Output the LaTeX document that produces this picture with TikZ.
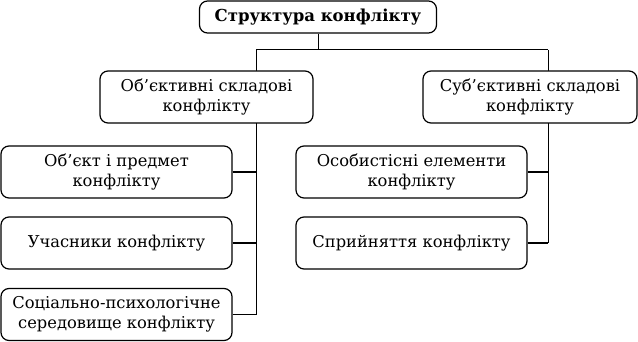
\documentclass[tikz,border=0pt]{standalone}
\usepackage{fontspec}
\setmainfont{DejaVu Serif}
\usepackage{tikz}
\usetikzlibrary{positioning, backgrounds}

\begin{document}
\begin{tikzpicture}[
    x=1pt, y=-1pt,
    every node/.style={font=\fontsize{16.3}{19.5}\selectfont},
    blok/.style={draw, line width=1.2pt, rounded corners=8pt, fill=white,
        align=center, inner sep=0pt, minimum height=52pt},
    titul/.style={blok, minimum height=32pt, minimum width=237pt,
        font=\fontsize{16.5}{20}\selectfont\bfseries},
    zviazok/.style={line width=1pt, black},
    gilka/.style={line width=1.5pt, black}
]
\useasboundingbox (0,0) rectangle (638,342);

\def\wL{231}     % ширина нижніх блоків
\def\xL{256}     % ліва вертикаль
\def\xR{548}     % права вертикаль
\def\yH{50}      % горизонталь під заголовком

% заголовок
\node[titul] (root) at (318,17) {Структура конфлікту};

% складові
\node[blok, minimum width=213pt] (obj) at (206.5,97) {Об’єктивні складові\\конфлікту};
\node[blok, minimum width=214pt] (subj) at (530,97) {Суб’єктивні складові\\конфлікту};

% ліва гілка
\node[blok, minimum width=\wL pt] (obj1) at (116.5,172) {Об’єкт і предмет\\конфлікту};
\node[blok, minimum width=\wL pt] (obj2) at (116.5,243) {Учасники конфлікту};
\node[blok, minimum width=\wL pt] (obj3) at (116.5,314.5) {Соціально-психологічне\\середовище конфлікту};

% права гілка
\node[blok, minimum width=\wL pt] (subj1) at (411.5,172) {Особистісні елементи\\конфлікту};
\node[blok, minimum width=\wL pt] (subj2) at (411.5,243) {Сприйняття конфлікту};

% вузли ліній
\coordinate (jl) at (\xL,\yH);
\coordinate (jr) at (\xR,\yH);
\coordinate (jm) at (root.south |- jl);

% лінії
\begin{scope}[on background layer]
\draw[zviazok] (root.south) -- (jm);
\draw[zviazok] (jl) -- (jr);
\draw[zviazok] (jl) -- (jl |- obj3.east);
\draw[zviazok] (jr) -- (jr |- subj2.east);
\draw[gilka] (obj1.east) -- (jl |- obj1.east);
\draw[gilka] (obj2.east) -- (jl |- obj2.east);
\draw[gilka] (obj3.east) -- (jl |- obj3.east);
\draw[gilka] (subj1.east) -- (jr |- subj1.east);
\draw[gilka] (subj2.east) -- (jr |- subj2.east);
\end{scope}

\end{tikzpicture}
\end{document}
